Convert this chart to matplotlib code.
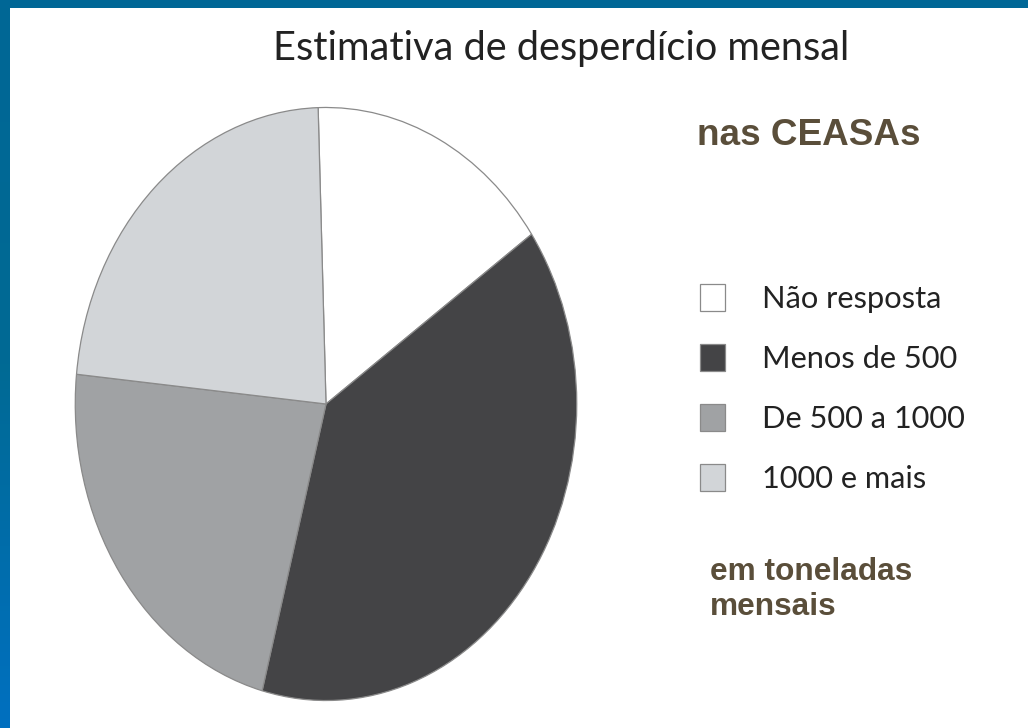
import numpy as np
import matplotlib
matplotlib.use("Agg")
import matplotlib.pyplot as plt
from matplotlib.colors import LinearSegmentedColormap

# ---- data ----
title = "Estimativa de desperdício mensal"
subtitle = "nas CEASAs"
unit_note = "em toneladas\nmensais"
categories = ["Não resposta", "Menos de 500", "De 500 a 1000", "1000 e mais"]
shares = [15.8, 38.8, 22.5, 22.9]
colors = ["#ffffff", "#444446", "#a0a2a4", "#d2d5d8"]

W, H = 1028, 728
fig = plt.figure(figsize=(W / 100, H / 100), dpi=100)
fig.patch.set_facecolor("white")

# blue frame (top band + left band with gradient)
bg = fig.add_axes([0, 0, 1, 1], zorder=-5)
bg.axis("off")
grad = np.linspace(0, 1, 256).reshape(-1, 1)
cmap = LinearSegmentedColormap.from_list("b", ["#006796", "#006a94", "#0070c0"])
bg.imshow(grad, cmap=cmap, extent=(0, 10, H, 0), aspect="auto")
bg.add_patch(plt.Rectangle((0, 0), W, 8, color="#006796", lw=0))
bg.set_xlim(0, W)
bg.set_ylim(H, 0)

# pie axes: elliptical pie
cx, cy, rx, ry = 326, 404, 252, 298
ax = fig.add_axes([(cx - rx) / W, (H - cy - ry) / H, 2 * rx / W, 2 * ry / H])
wedges, _ = ax.pie(shares, colors=colors, startangle=91.8, counterclock=False,
                   wedgeprops=dict(edgecolor="#8a8a8a", linewidth=0.9))
ax.set_aspect("auto")
ax.set_xlim(-1.005, 1.005)
ax.set_ylim(-1.005, 1.005)
ax.axis("off")

renderer = fig.canvas.get_renderer()

def fit(t, target_w):
    fs = t.get_fontsize()
    for _ in range(3):
        w = t.get_window_extent(renderer).width
        fs = fs * target_w / w
        t.set_fontsize(fs)
    return fs

# title
tt = fig.text(273 / W, 1 - 60 / H, title, ha="left", va="baseline",
              fontsize=26, color="#222222", family="Lato")
fit(tt, 577)

# brown texts
brown = "#5a4e3a"
st = fig.text(697 / W, 1 - 145 / H, subtitle, ha="left", va="baseline",
              fontsize=24, color=brown, family="Liberation Sans", weight="bold")
fit(st, 223)
un = fig.text(710 / W, 1 - 578 / H, "em toneladas", ha="left", va="baseline",
              fontsize=22, color=brown, family="Liberation Sans", weight="bold")
fit(un, 202)
un.set_text(unit_note)
un.set_linespacing(1.2)
un.set_va("top")
un.set_position((710 / W, 1 - 557 / H))

# legend
probe = fig.text(0, 0, "Menos de 500", fontsize=22, family="Lato")
lfs = fit(probe, 196)
probe.remove()
fpx = lfs * 100 / 72
leg = fig.legend(wedges, categories, loc="upper left",
                 bbox_to_anchor=(700 / W, 1 - 284 / H), bbox_transform=fig.transFigure,
                 frameon=False, prop=dict(family="Lato", size=lfs),
                 handlelength=25 / fpx, handleheight=30 / fpx,
                 handletextpad=37 / fpx, labelspacing=(61 - 30) / fpx,
                 borderpad=0, borderaxespad=0, labelcolor="#222222")

fig.savefig("out.png", dpi=100, facecolor="white")
